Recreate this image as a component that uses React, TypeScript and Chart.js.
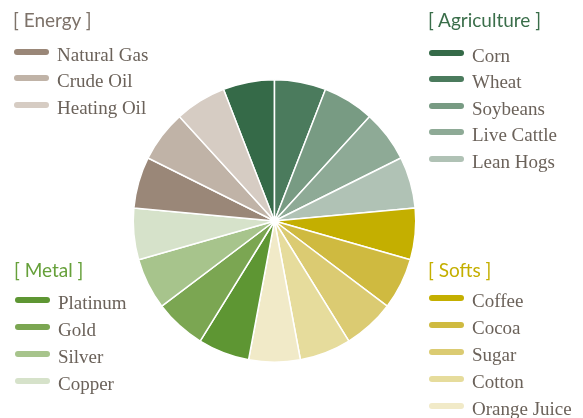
import React, { useEffect, useRef } from "react";
import { Chart, registerables } from "chart.js";

Chart.register(...registerables);

// ---- data ----
const agricultureLabels = ["Corn", "Wheat", "Soybeans", "Live Cattle", "Lean Hogs"];
const agricultureValues = [1, 1, 1, 1, 1];
const softsLabels = ["Coffee", "Cocoa", "Sugar", "Cotton", "Orange Juice"];
const softsValues = [1, 1, 1, 1, 1];
const metalLabels = ["Platinum", "Gold", "Silver", "Copper"];
const metalValues = [1, 1, 1, 1];
const energyLabels = ["Natural Gas", "Crude Oil", "Heating Oil"];
const energyValues = [1, 1, 1];

// ---- styles ----
const agricultureColors = ["#356a48", "#4b7b5d", "#789b83", "#8eaa96", "#b0c2b5"];
const softsColors = ["#c4af00", "#cfba40", "#dbcb72", "#e6dc9c", "#f1eac8"];
const metalColors = ["#5e9633", "#7ba652", "#a7c48c", "#d6e2ca"];
const energyColors = ["#9a8778", "#c0b3a7", "#d6ccc3"];

const allLabels = [...agricultureLabels, ...softsLabels, ...metalLabels, ...energyLabels];
const allValues = [...agricultureValues, ...softsValues, ...metalValues, ...energyValues];
const allColors = [...agricultureColors, ...softsColors, ...metalColors, ...energyColors];

type Group = {
  title: string;
  titleColor: string;
  labels: string[];
  colors: string[];
  x: number;
  textX: number;
  titleBaseline: number;
  firstBaseline: number;
  step: number;
};

const groups: Group[] = [
  { title: "[ Energy ]", titleColor: "#7d7269", labels: energyLabels, colors: energyColors, x: 14, textX: 57, titleBaseline: 27, firstBaseline: 61, step: 26.8 },
  { title: "[ Agriculture ]", titleColor: "#3a6e4a", labels: agricultureLabels, colors: agricultureColors, x: 429, textX: 472, titleBaseline: 27, firstBaseline: 62, step: 26.6 },
  { title: "[ Metal ]", titleColor: "#66a03a", labels: metalLabels, colors: metalColors, x: 15, textX: 58, titleBaseline: 277, firstBaseline: 309, step: 27 },
  { title: "[ Softs ]", titleColor: "#c4af00", labels: softsLabels, colors: softsColors, x: 429, textX: 472, titleBaseline: 277, firstBaseline: 307, step: 27 },
];

// line-height 0 trick: baseline offset from top = (ascent - descent)/2 em
const SERIF_SIZE = 19;
const SERIF_OFF = ((0.891 - 0.216) / 2) * SERIF_SIZE;
const SANS_SIZE = 19;
const SANS_OFF = ((0.987 - 0.213) / 2) * SANS_SIZE;

export default function App() {
  const ref = useRef<HTMLCanvasElement | null>(null);

  useEffect(() => {
    document.body.style.margin = "0";
    if (!ref.current) return;
    const chart = new Chart(ref.current, {
      type: "pie",
      data: {
        labels: allLabels,
        datasets: [
          {
            data: allValues,
            backgroundColor: allColors,
            borderColor: "#ffffff",
            borderWidth: 1.5,
          },
        ],
      },
      options: {
        responsive: false,
        animation: false,
        rotation: -360 / allValues.length,
        layout: { padding: { top: 79, bottom: 55, left: 132.5, right: 166.5 } },
        plugins: {
          legend: { display: false },
          tooltip: { enabled: false },
        },
      },
    });
    return () => chart.destroy();
  }, []);

  return (
    <div style={{ position: "absolute", left: 0, top: 0, width: 583, height: 418, background: "#fff", overflow: "hidden" }}>
      <canvas ref={ref} width={583} height={418} style={{ position: "absolute", left: 0, top: 0 }} />
      {groups.map((g) => (
        <React.Fragment key={g.title}>
          <div
            style={{
              position: "absolute",
              left: g.x - 1,
              top: g.titleBaseline - SANS_OFF,
              lineHeight: 0,
              whiteSpace: "nowrap",
              fontFamily: "Lato, sans-serif",
              fontSize: SANS_SIZE,
              color: g.titleColor,
            }}
          >
            {g.title}
          </div>
          {g.labels.map((lab, i) => {
            const base = g.firstBaseline + i * g.step;
            return (
              <React.Fragment key={lab}>
                <div
                  style={{
                    position: "absolute",
                    left: g.x,
                    top: base - 9.5 - 3,
                    width: 35,
                    height: 6,
                    borderRadius: 3,
                    background: g.colors[i],
                  }}
                />
                <div
                  style={{
                    position: "absolute",
                    left: g.textX,
                    top: base - SERIF_OFF,
                    lineHeight: 0,
                    whiteSpace: "nowrap",
                    fontFamily: "'Liberation Serif', serif",
                    fontSize: SERIF_SIZE,
                    color: "#6b625a",
                  }}
                >
                  {lab}
                </div>
              </React.Fragment>
            );
          })}
        </React.Fragment>
      ))}
    </div>
  );
}
